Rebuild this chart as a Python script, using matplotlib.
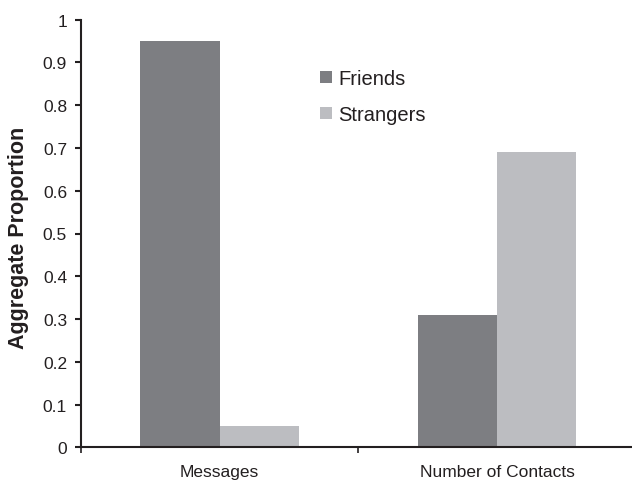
import numpy as np
import matplotlib
matplotlib.use("Agg")
import matplotlib.pyplot as plt

categories = ["Messages", "Number of Contacts"]
series_names = ["Friends", "Strangers"]
friends = [0.95, 0.31]
strangers = [0.05, 0.69]

colors = ["#7d7e82", "#bcbdc1"]
text_color = "#231f20"

plt.rcParams["font.family"] = ["Liberation Sans", "DejaVu Sans"]

fig = plt.figure(figsize=(6.32, 4.81), dpi=100)
W, H = 632.0, 481.0
x0, x1, y0, y1 = 80.7, 636.0, 448.3, 20.7
ax = fig.add_axes([x0 / W, 1 - y0 / H, (x1 - x0) / W, (y0 - y1) / H])

x = np.arange(len(categories))
bw = 0.285
ax.bar(x - bw / 2, friends, bw, color=colors[0], label=series_names[0])
ax.bar(x + bw / 2, strangers, bw, color=colors[1], label=series_names[1])

ax.set_xlim(-0.5, len(categories) - 0.5)
ax.set_ylim(0, 1)
ax.set_yticks(np.arange(0, 1.01, 0.1))
ax.set_yticklabels(["0"] + ["%.1f" % v for v in np.arange(0.1, 0.95, 0.1)] + ["1"])

# category boundaries as major ticks, names on minor ticks
ax.set_xticks(np.arange(-0.5, len(categories), 1.0))
ax.set_xticklabels([])
ax.set_xticks(x, minor=True)
ax.set_xticklabels(categories, minor=True)

for s in ["top", "right"]:
    ax.spines[s].set_visible(False)
for s in ["left", "bottom"]:
    ax.spines[s].set_linewidth(1.5)
    ax.spines[s].set_color(text_color)

ax.tick_params(axis="y", length=4.3, width=1.5, pad=5.5, labelsize=12.5,
               colors=text_color)
ax.tick_params(axis="x", which="major", length=4.3, width=1.2, colors=text_color)
ax.tick_params(axis="x", which="minor", length=0, pad=12, labelsize=12.5,
               labelcolor=text_color)

fig.text(19 / W, 1 - 237.5 / H, "Aggregate Proportion", rotation=90,
         ha="center", va="center", fontsize=15.5, fontweight="bold",
         color=text_color)

ax.legend(loc="upper left", bbox_to_anchor=(320 / W, 1 - 70 / H),
          bbox_transform=fig.transFigure, frameon=False, fontsize=14.5,
          handlelength=0.6, handleheight=0.6, handletextpad=0.3,
          labelspacing=0.85, borderpad=0, borderaxespad=0, labelcolor=text_color)

fig.savefig("out.png", dpi=100)
